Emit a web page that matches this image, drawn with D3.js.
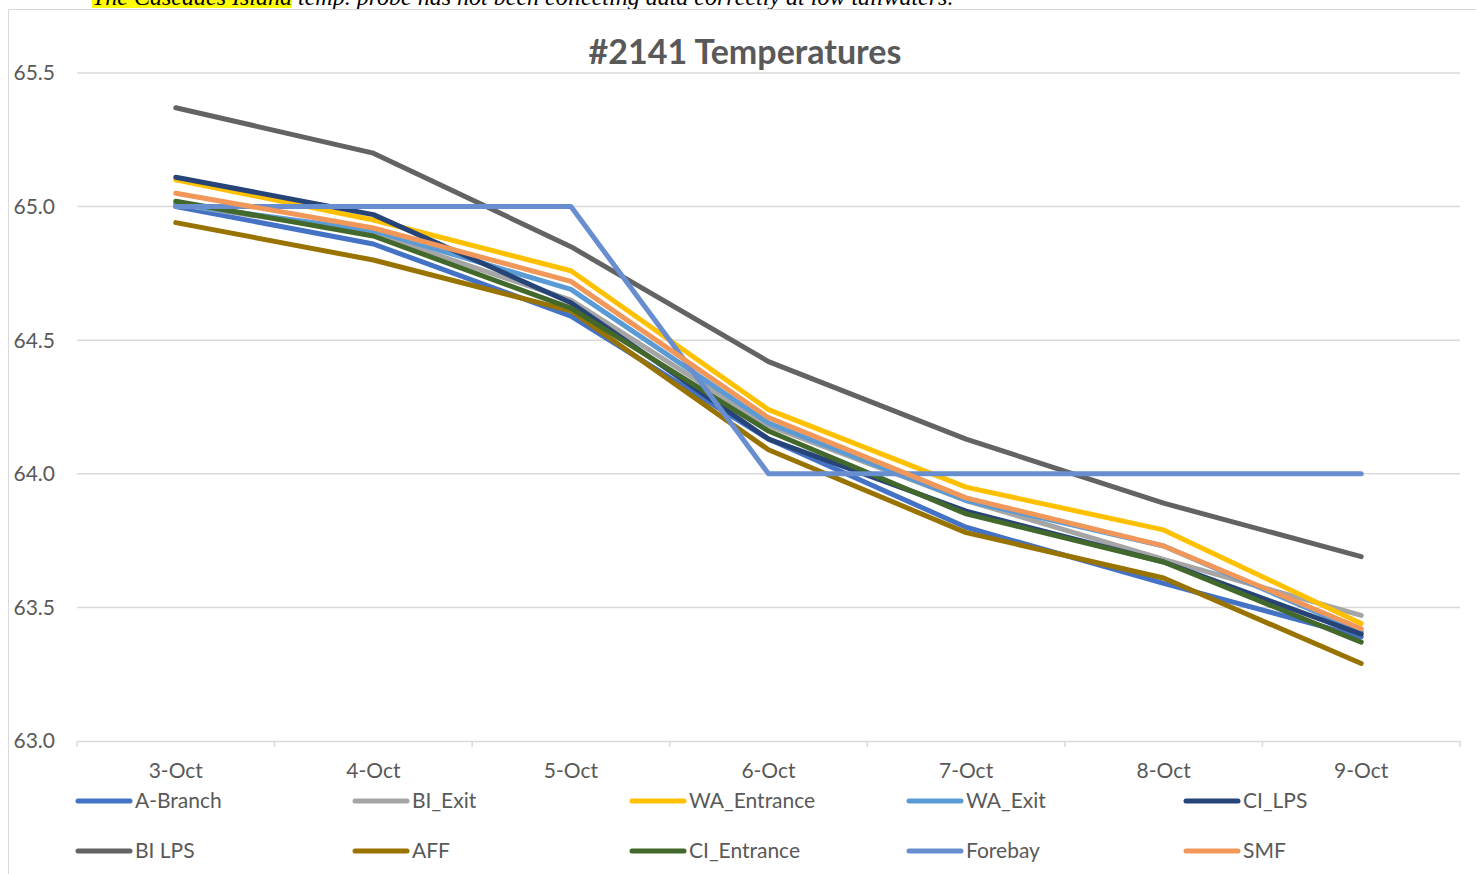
<!DOCTYPE html>
<html>
<head>
<meta charset="utf-8">
<script src="https://cdn.jsdelivr.net/npm/d3@7"></script>
<style>
  body { margin: 0; background: #fff; }
  svg { display: block; }
</style>
</head>
<body>
<svg id="chart" width="1476" height="874"></svg>
<script>
// categories and series
const dates = ["3-Oct", "4-Oct", "5-Oct", "6-Oct", "7-Oct", "8-Oct", "9-Oct"];
const seriesNames = ["A-Branch", "BI_Exit", "WA_Entrance", "WA_Exit", "CI_LPS",
                     "BI LPS", "AFF", "CI_Entrance", "Forebay", "SMF"];
const aBranch    = [65.00, 64.86, 64.59, 64.13, 63.80, 63.59, 63.39];
const biExit     = [65.01, 64.90, 64.65, 64.18, 63.90, 63.68, 63.47];
const waEntrance = [65.10, 64.95, 64.76, 64.24, 63.95, 63.79, 63.44];
const waExit     = [65.01, 64.91, 64.69, 64.19, 63.90, 63.73, 63.41];
const ciLps      = [65.11, 64.97, 64.64, 64.13, 63.86, 63.67, 63.40];
const biLps      = [65.37, 65.20, 64.85, 64.42, 64.13, 63.89, 63.69];
const aff        = [64.94, 64.80, 64.61, 64.09, 63.78, 63.61, 63.29];
const ciEntrance = [65.02, 64.89, 64.62, 64.16, 63.85, 63.67, 63.37];
const forebay    = [65.00, 65.00, 65.00, 64.00, 64.00, 64.00, 64.00];
const smf        = [65.05, 64.92, 64.72, 64.21, 63.91, 63.73, 63.42];
const yTicks = [63.0, 63.5, 64.0, 64.5, 65.0, 65.5];
const colors = ["#4472C4", "#A5A5A5", "#FFC000", "#5B9BD5", "#264478",
                "#636363", "#997300", "#43682B", "#698ED0", "#F1975A"];

const values = [aBranch, biExit, waEntrance, waExit, ciLps, biLps, aff, ciEntrance, forebay, smf];
const series = seriesNames.map((name, i) => ({name, color: colors[i], values: values[i]}));

const svg = d3.select("#chart");
const font = "Lato, 'Open Sans', sans-serif";

// document note above the chart (cut off at top, as in the page it came from)
const hl = svg.append("rect")
    .attr("x", 92).attr("y", 0).attr("height", 8)
    .attr("fill", "#FFFF00");
const note = svg.append("text")
    .attr("x", 92).attr("y", 5)
    .style("font", "italic 24px 'Liberation Serif', 'DejaVu Serif', serif")
    .attr("fill", "#000");
note.append("tspan").text("The Cascades Island");
note.append("tspan").text(" temp. probe has not been collecting data correctly at low tailwaters.");
hl.attr("width", note.select("tspan").node().getComputedTextLength());

// chart frame
svg.append("path")
    .attr("d", "M8.5,874 V9.5 H1476")
    .attr("fill", "none")
    .attr("stroke", "#d9d9d9")
    .attr("stroke-width", 1);

const margin = {left: 77, right: 1460, top: 73, bottom: 741};

const x = d3.scaleBand()
    .domain(dates)
    .range([margin.left, margin.right]);

const y = d3.scaleLinear()
    .domain([63.0, 65.5])
    .range([margin.bottom, margin.top]);

// gridlines
svg.append("g")
    .selectAll("line")
    .data(yTicks.slice(1))
    .join("line")
    .attr("x1", margin.left).attr("x2", margin.right)
    .attr("y1", d => y(d)).attr("y2", d => y(d))
    .attr("stroke", "#d9d9d9")
    .attr("stroke-width", 1.5);

// y tick labels
svg.append("g")
    .selectAll("text")
    .data(yTicks)
    .join("text")
    .attr("x", 55)
    .attr("y", d => y(d))
    .attr("dy", "0.35em")
    .attr("text-anchor", "end")
    .style("font", `21px ${font}`)
    .attr("fill", "#595959")
    .text(d => d.toFixed(1));

// x axis
const xAxis = svg.append("g")
    .attr("transform", `translate(0,${margin.bottom})`)
    .call(d3.axisBottom(x).tickSize(0).tickPadding(24));
xAxis.select(".domain").attr("stroke", "#d9d9d9").attr("stroke-width", 1.5);
xAxis.selectAll("text")
    .style("font", `21px ${font}`)
    .attr("fill", "#595959")
    .attr("dy", "0.6em");

// category boundary ticks
svg.append("g")
    .selectAll("line")
    .data(dates.map(d => x(d)).concat([margin.right]))
    .join("line")
    .attr("x1", d => d).attr("x2", d => d)
    .attr("y1", margin.bottom).attr("y2", margin.bottom + 6)
    .attr("stroke", "#d9d9d9")
    .attr("stroke-width", 1.5);

// title
svg.append("text")
    .attr("x", 745).attr("y", 64)
    .attr("text-anchor", "middle")
    .style("font", `bold 34px ${font}`)
    .attr("fill", "#595959")
    .text("#2141 Temperatures");

// lines
const line = d3.line()
    .x((d, i) => x(dates[i]) + x.bandwidth() / 2)
    .y(d => y(d));

svg.append("g")
    .attr("fill", "none")
    .attr("stroke-width", 5)
    .attr("stroke-linecap", "round")
    .attr("stroke-linejoin", "round")
    .selectAll("path")
    .data(series)
    .join("path")
    .attr("stroke", d => d.color)
    .attr("d", d => line(d.values));

// legend: two rows of five
const legend = svg.append("g")
    .selectAll("g")
    .data(series)
    .join("g")
    .attr("transform", (d, i) => `translate(${78 + (i % 5) * 277},${801 + Math.floor(i / 5) * 50})`);

legend.append("line")
    .attr("x1", 0).attr("x2", 52)
    .attr("stroke", d => d.color)
    .attr("stroke-width", 5)
    .attr("stroke-linecap", "round");

legend.append("text")
    .attr("x", 57)
    .attr("dy", "0.35em")
    .style("font", `21px ${font}`)
    .attr("fill", "#595959")
    .text(d => d.name);
</script>
</body>
</html>
